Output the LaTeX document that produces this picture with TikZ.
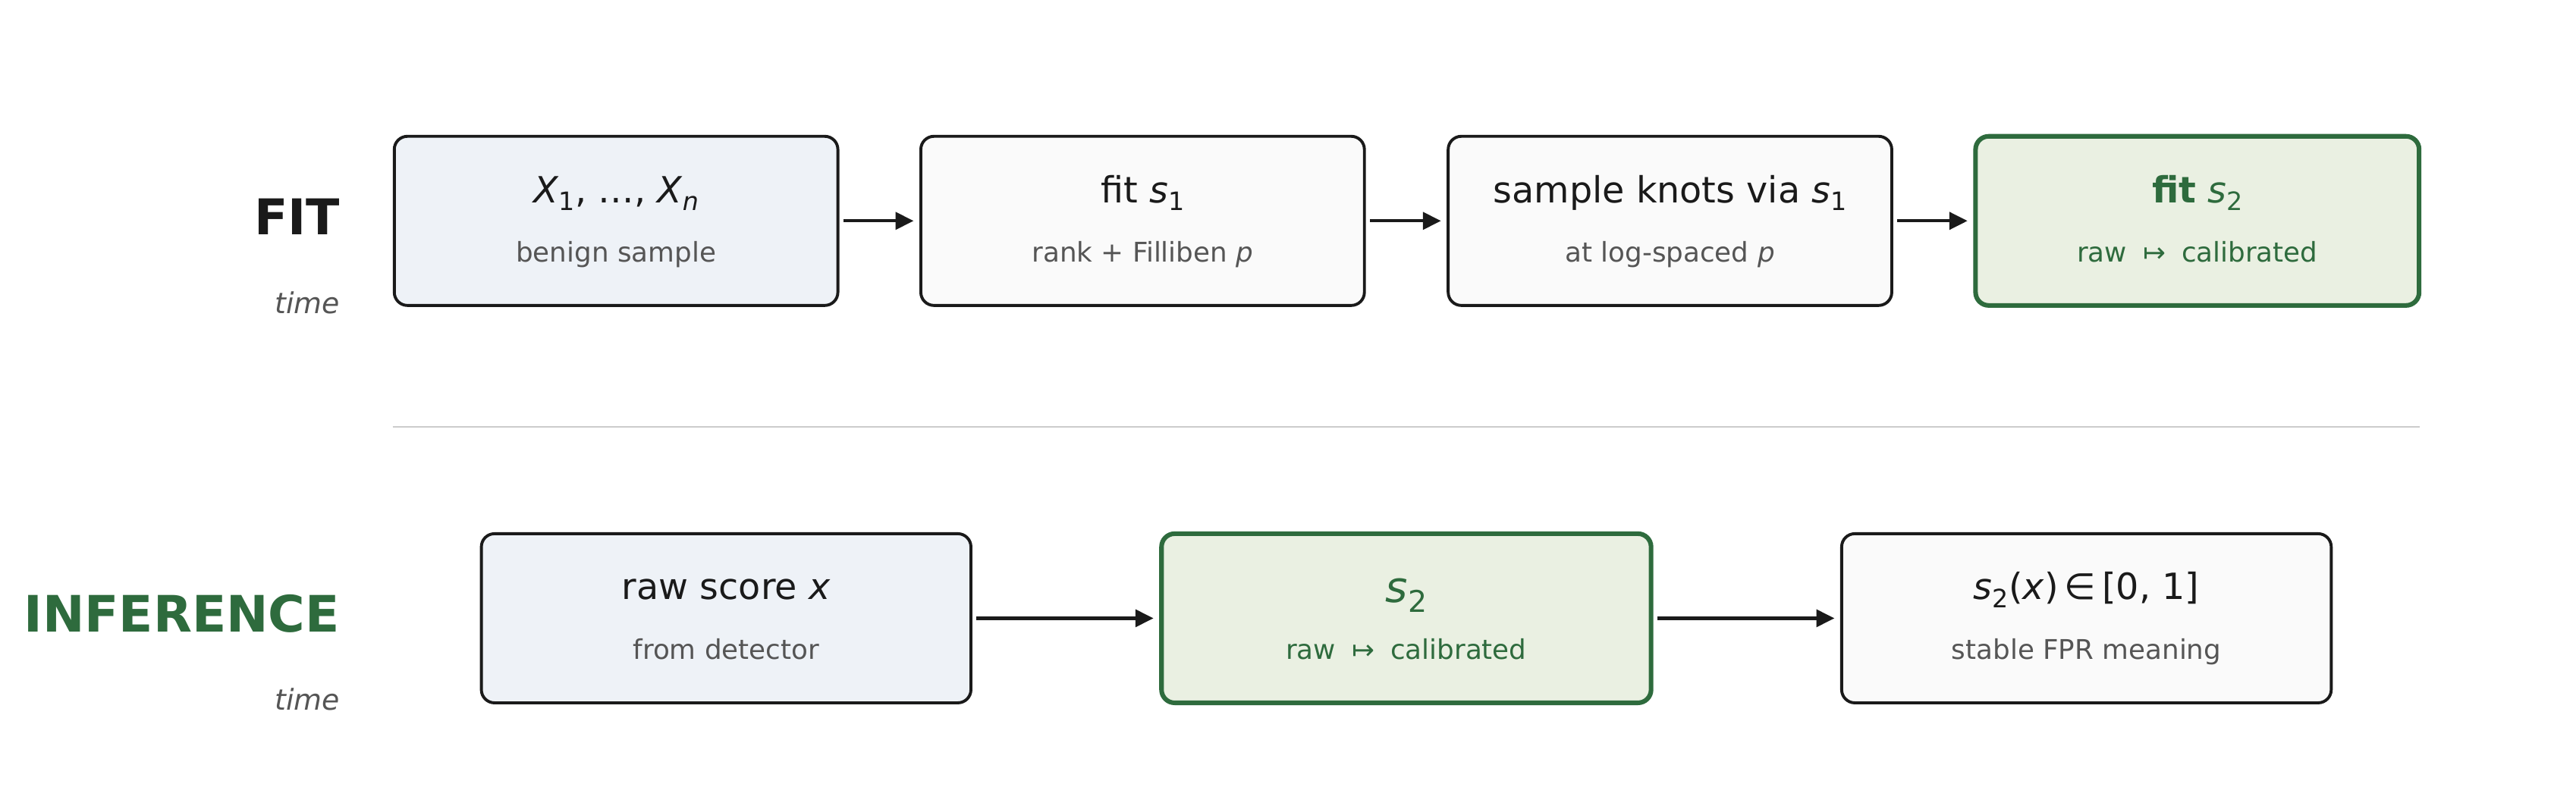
\documentclass[tikz,border=0pt]{standalone}
\usepackage{fontspec}
\setmainfont{DejaVu Sans}
\usepackage{graphicx}
\usetikzlibrary{arrows.meta,calc}
\definecolor{ink}{HTML}{1A1A1A}
\definecolor{gtxt}{HTML}{2E6B3D}
\definecolor{subc}{HTML}{555555}
\definecolor{bluef}{HTML}{EEF2F7}
\definecolor{grayf}{HTML}{FAFAFA}
\definecolor{greenf}{HTML}{EAF0E2}
\definecolor{sepc}{HTML}{CCCCCC}
\newcommand{\lsb}[1]{\raisebox{-0.22em}{\scalebox{0.7}{#1}}}
\newcommand{\mapto}{\hspace{4.5pt}↦\hspace{4.5pt}}
\begin{document}
\begin{tikzpicture}[x=1pt,y=-1pt,
  stagebox/.style={draw=ink, line width=1.8pt, rounded corners=8pt, inner sep=0pt,
     minimum height=103pt},
  topbox/.style={stagebox, minimum width=270pt},
  botbox/.style={stagebox, minimum width=298pt},
  greenbox/.style={draw=gtxt, line width=2.8pt, fill=greenf},
  maintxt/.style={anchor=base, inner sep=0pt, font=\fontsize{22}{26}\selectfont, text=ink},
  subtxt/.style={anchor=base, inner sep=0pt, font=\fontsize{16.5}{20}\selectfont, text=subc},
  phase/.style={anchor=base east, inner sep=0pt, font=\fontsize{30}{36}\selectfont\bfseries},
  timetxt/.style={anchor=base east, inner sep=0pt, font=\fontsize{17.5}{21}\selectfont\itshape, text=subc},
  flow/.style={draw=ink, line width=1.9pt, -{Triangle[length=11pt,width=10.5pt]},
     shorten <=2.5pt, shorten >=3.5pt}
]
\useasboundingbox (0,0) rectangle (1568,492.65);

% phase labels
\node[phase, text=ink] (fitlbl) at (207,142.7) {FIT};
\node[timetxt] (fittime) at (207,190.8) {time};
\node[phase, text=gtxt, font=\fontsize{30.6}{36}\selectfont\bfseries] (inflbl) at (207,384.7) {INFERENCE};
\node[timetxt] (inftime) at (207,432.5) {time};

% separator
\coordinate (sepL) at (239,260);
\coordinate (sepR) at (1473,260);
\draw[sepc, line width=1.2pt] (sepL) -- (sepR);

% top row
\node[topbox, fill=bluef] (t1) at (375,134.5) {};
\node[topbox, fill=grayf] (t2) at (695.5,134.5) {};
\node[topbox, fill=grayf] (t3) at (1016.5,134.5) {};
\node[topbox, greenbox] (t4) at (1337.5,134.5) {};

\node[maintxt] (t1m) at ($(t1.center)+(0,-11)$) {\textit{X}\lsb{1}, …, \textit{X}\lsb{\textit{n}}};
\node[subtxt] (t1s) at ($(t1.center)+(0,25)$) {benign sample};
\node[maintxt] (t2m) at ($(t2.center)+(0,-11)$) {fit \textit{s}\lsb{1}};
\node[subtxt] (t2s) at ($(t2.center)+(0,25)$) {rank + Filliben \textit{p}};
\node[maintxt] (t3m) at ($(t3.center)+(0,-11)$) {sample knots via \textit{s}\lsb{1}};
\node[subtxt] (t3s) at ($(t3.center)+(0,25)$) {at log-spaced \textit{p}};
\node[maintxt, text=gtxt] (t4m) at ($(t4.center)+(0,-11)$) {\textbf{fit} \textit{s}\lsb{2}};
\node[subtxt, text=gtxt] (t4s) at ($(t4.center)+(0,25)$) {raw \mapto{} calibrated};

\draw[flow] (t1.east) -- (t2.west);
\draw[flow] (t2.east) -- (t3.west);
\draw[flow] (t3.east) -- (t4.west);

% bottom row
\node[botbox, fill=bluef] (b1) at (442,376.5) {};
\node[botbox, greenbox] (b2) at (856,376.5) {};
\node[botbox, fill=grayf] (b3) at (1270,376.5) {};

\node[maintxt] (b1m) at ($(b1.center)+(0,-11.5)$) {raw score \textit{x}};
\node[subtxt] (b1s) at ($(b1.center)+(0,24.8)$) {from detector};
\node[maintxt, text=gtxt, font=\fontsize{26}{30}\selectfont] (b2m) at ($(b2.center)+(0,-9.5)$) {\textit{s}\lsb{2}};
\node[subtxt, text=gtxt] (b2s) at ($(b2.center)+(0,24.8)$) {raw \mapto{} calibrated};
\node[maintxt] (b3m) at ($(b3.center)+(0,-11.5)$) {\textit{s}\lsb{2}(\textit{x})\,∈\,[0, 1]};
\node[subtxt] (b3s) at ($(b3.center)+(0,24.8)$) {stable FPR meaning};

\draw[flow] (b1.east) -- (b2.west);
\draw[flow] (b2.east) -- (b3.west);
\end{tikzpicture}
\end{document}
